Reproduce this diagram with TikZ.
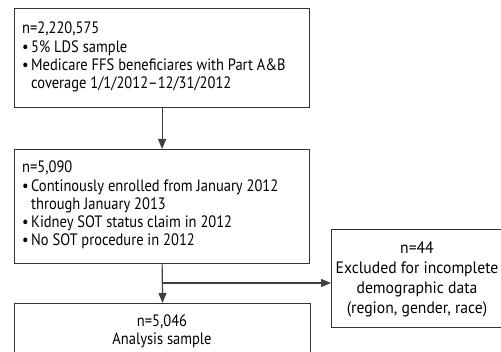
\documentclass[tikz,border=0pt]{standalone}
\usepackage{fontspec}
\setmainfont{PT Sans}[FakeStretch=0.88]
\newfontfamily\sidefont{PT Sans}[FakeStretch=0.95]
\usetikzlibrary{arrows.meta}
\newcommand{\full}[1]{\multicolumn{2}{@{}l@{}}{#1}}
\tikzset{
  boxnode/.style={draw=black!80, line width=1.2pt, fill=white, inner sep=0pt, anchor=north west},
  txt/.style={inner sep=0pt, font=\fontsize{16.5}{18.2}\selectfont},
  sidetxt/.style={inner sep=0pt, font=\sidefont\fontsize{16.5}{20}\selectfont},
  conn/.style={draw=black!75, line width=1.2pt},
  arr/.style={conn, -{Triangle[length=10pt,width=8pt]}},
}
\begin{document}
\begin{tikzpicture}[x=1pt,y=1pt]
\useasboundingbox (0,0) rectangle (501,352);
% boxes
\node[boxnode, minimum width=295pt, minimum height=99pt] (b1) at (14,344) {};
\node[boxnode, minimum width=295pt, minimum height=114pt] (b2) at (14,203) {};
\node[boxnode, minimum width=296pt, minimum height=60pt] (b3) at (14,49) {};
\node[boxnode, minimum width=180pt, minimum height=98pt] (b4) at (331,123) {};
% texts
\node[txt, anchor=north west] (t1) at ([xshift=8pt,yshift=-13pt]b1.north west)
 {\begin{tabular}{@{}p{9pt}@{}l@{}}
  \full{n=2,220,575}\\
  • & 5\% LDS sample\\
  • & Medicare FFS beneficiares with Part A\&B\\
    & coverage 1/1/2012–12/31/2012
  \end{tabular}};
\node[txt, anchor=north west] (t2) at ([xshift=8pt,yshift=-11pt]b2.north west)
 {\begin{tabular}{@{}p{9pt}@{}l@{}}
  \full{n=5,090}\\
  • & Continously enrolled from January 2012\\
    & through January 2013\\
  • & Kidney SOT status claim in 2012\\
  • & No SOT procedure in 2012
  \end{tabular}};
\node[txt, align=center] (t3) at (162,21) {n=5,046\\Analysis sample};
\node[sidetxt, align=center] (t4) at (417,73) {n=44\\Excluded for incomplete\\demographic data\\(region, gender, race)};
% connectors
\draw[arr] (b1.south) -- (b2.north);
\draw[arr] (b2.south) -- (b3.north);
\coordinate (br) at (b2.south |- 0,69);
\draw[arr] (br) -- (br -| b4.west);
\end{tikzpicture}
\end{document}
